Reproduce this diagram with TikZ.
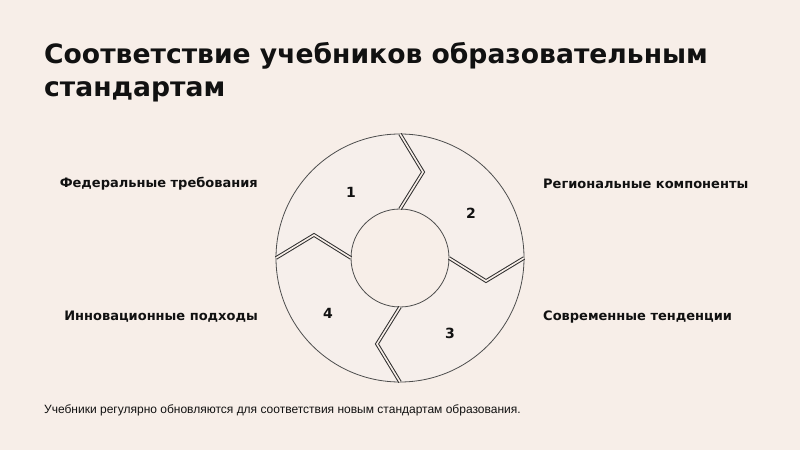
\documentclass[tikz,border=0pt]{standalone}
\usepackage{fontspec}
\setmainfont{Liberation Sans}
\newfontfamily\heavyfont{DejaVu Sans}
\usetikzlibrary{calc}
\definecolor{bg}{HTML}{F7EEE8}
\definecolor{seg}{HTML}{F6EFEB}
\definecolor{ink}{HTML}{111111}
\definecolor{edge}{HTML}{2E2E2E}
\begin{document}
\begin{tikzpicture}[x=1pt,y=1pt,
  title/.style={font=\heavyfont\fontsize{26.6}{30}\selectfont\bfseries, text=ink, inner sep=0pt},
  lbl/.style={font=\heavyfont\fontsize{13}{15}\selectfont\bfseries, text=ink, inner sep=0pt},
  num/.style={font=\heavyfont\fontsize{14}{16}\selectfont\bfseries, text=ink, inner sep=0pt},
  foot/.style={font=\fontsize{12}{14}\selectfont, text=ink, inner sep=0pt},
  sepout/.style={line width=3.6pt, edge, line join=miter},
  sepin/.style={line width=1.6pt, bg, line join=miter}]
\fill[bg] (0,0) rectangle (800,450);
\useasboundingbox (0,0) rectangle (800,450);
\coordinate (c) at (400,192);
% ring
\fill[seg, even odd rule] (c) circle (124) (c) circle (49);
\draw[edge!85, line width=0.8pt] (c) circle (124);
\draw[edge!85, line width=0.8pt, fill=bg] (c) circle (49);
% separators
\foreach \t/\n in {90/a,0/b,-90/c4,180/d}{
  \coordinate (i\n) at ($(c)+(\t:49)$);
  \coordinate (k\n) at ($(c)+(\t-15:89)$);
  \coordinate (o\n) at ($(c)+(\t:124)$);
  \draw[sepout] (i\n) -- (k\n) -- (o\n);
  \draw[sepin] (i\n) -- (k\n) -- (o\n);
}
% numbers
\node[num] (n1) at (351,258) {1};
\node[num] (n2) at (471,237) {2};
\node[num] (n3) at (450,117) {3};
\node[num] (n4) at (328,137) {4};
% title
\node[title, anchor=base west] (t1) at (44,386) {Соответствие учебников образовательным};
\node[title, anchor=base west] (t2) at (44,353) {стандартам};
% labels
\node[lbl, anchor=east] (l1) at (258,266) {Федеральные требования};
\node[lbl, anchor=west] (l2) at (543,266) {Региональные компоненты};
\node[lbl, anchor=east] (l4) at (258,133) {Инновационные подходы};
\node[lbl, anchor=west] (l3) at (543,133) {Современные тенденции};
% footer
\node[foot, anchor=west] (f) at (44,40) {Учебники регулярно обновляются для соответствия новым стандартам образования.};
\end{tikzpicture}
\end{document}
